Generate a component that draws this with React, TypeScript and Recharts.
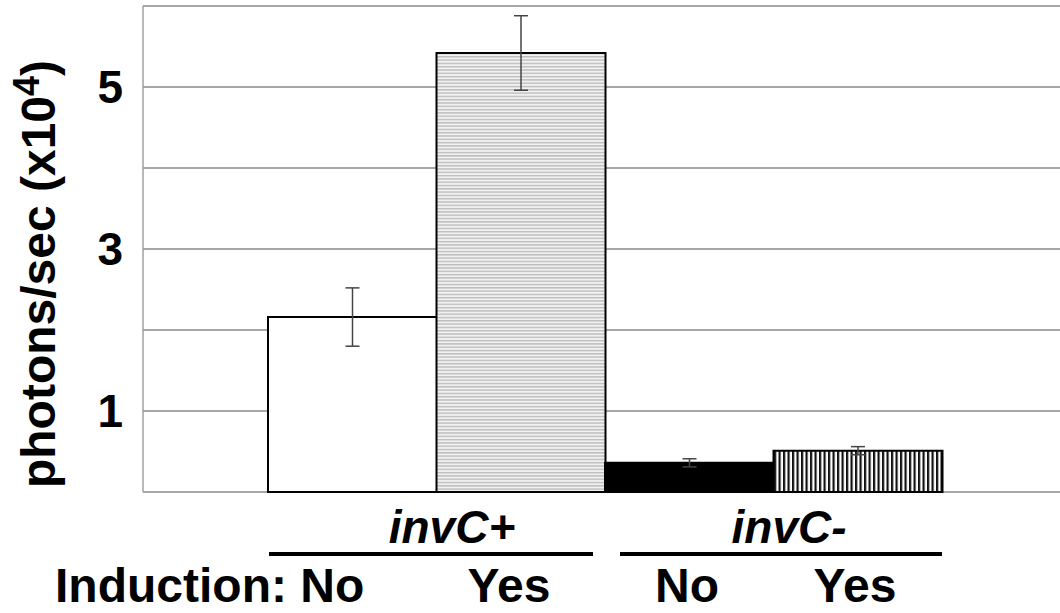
import React from 'react';
import { BarChart, Bar, XAxis, YAxis, CartesianGrid, ErrorBar, Cell } from 'recharts';

const categories = ['invC+ / No', 'invC+ / Yes', 'invC- / No', 'invC- / Yes'];
const photons = [2.16, 5.42, 0.36, 0.51];
const errors = [0.36, 0.46, 0.05, 0.05];
const yTicks = [0, 1, 2, 3, 4, 5, 6];
const labelledTicks = [1, 3, 5];
const groupLabels = ['invC+', 'invC-'];
const inductionLabels = ['No', 'Yes', 'No', 'Yes'];

const fills = ['#ffffff', 'url(#hstripe)', '#000000', 'url(#vstripe)'];
const font = '"Liberation Sans", Arial, sans-serif';

const data = categories.map((name, i) => ({ name, value: photons[i], err: errors[i] }));

const YTick = (props: any) => {
  const { y, payload } = props;
  if (!labelledTicks.includes(payload.value)) return <g />;
  return (
    <text x={123} y={y} dy={16} textAnchor="end" fontSize={46} fontWeight="bold" fontFamily={font} fill="#000">
      {payload.value}
    </text>
  );
};

const App: React.FC = () => {
  return (
    <div style={{ position: 'absolute', left: 0, top: 0, width: 1060, height: 613, background: '#fff' }}>
      <BarChart
        width={1060}
        height={613}
        data={data}
        margin={{ top: 6, right: 0, bottom: 121, left: 0 }}
        barCategoryGap={0}
      >
        <defs>
          <pattern id="hstripe" patternUnits="userSpaceOnUse" width={10} height={3.3}>
            <rect x={0} y={0} width={10} height={3.3} fill="#f1f1f1" />
            <rect x={0} y={0} width={10} height={1.4} fill="#bdbdbd" />
          </pattern>
          <pattern id="vstripe" patternUnits="userSpaceOnUse" width={4.5} height={10}>
            <rect x={0} y={0} width={4.5} height={10} fill="#ffffff" />
            <rect x={0} y={0} width={2.2} height={10} fill="#111111" />
          </pattern>
        </defs>
        <CartesianGrid vertical={false} stroke="#8a8a8a" strokeWidth={1.5} />
        <XAxis dataKey="name" hide padding={{ left: 125, right: 118 }} />
        <YAxis
          domain={[0, 6]}
          ticks={yTicks}
          interval={0}
          width={143}
          tickLine={false}
          axisLine={{ stroke: '#a0a0a0', strokeWidth: 1.5 }}
          tick={<YTick />}
        />
        <Bar dataKey="value" isAnimationActive={false} stroke="#000" strokeWidth={2}>
          {data.map((d, i) => (
            <Cell key={d.name} fill={fills[i]} />
          ))}
          <ErrorBar dataKey="err" width={7} stroke="#444" strokeWidth={1.5} />
        </Bar>
      </BarChart>
      <svg
        width={1060}
        height={613}
        style={{ position: 'absolute', left: 0, top: 0, pointerEvents: 'none' }}
        fontFamily={font}
        fontWeight="bold"
      >
        <text x={55} y={274} transform="rotate(-90, 55, 274)" textAnchor="middle" fontSize={48} fill="#000">
          photons/sec (x10<tspan dy={-16} fontSize={36}>4</tspan><tspan dy={16}>)</tspan>
        </text>
        <text x={452} y={543} textAnchor="middle" fontSize={46} fontStyle="italic" fill="#000">{groupLabels[0]}</text>
        <text x={789} y={543} textAnchor="middle" fontSize={46} fontStyle="italic" fill="#000">{groupLabels[1]}</text>
        <line x1={269} x2={593} y1={554} y2={554} stroke="#000" strokeWidth={4} />
        <line x1={620} x2={942} y1={554} y2={554} stroke="#000" strokeWidth={4} />
        <text x={55} y={602} fontSize={48} fill="#000">Induction: {inductionLabels[0]}</text>
        <text x={509} y={602} textAnchor="middle" fontSize={48} fill="#000">{inductionLabels[1]}</text>
        <text x={687} y={602} textAnchor="middle" fontSize={48} fill="#000">{inductionLabels[2]}</text>
        <text x={855} y={602} textAnchor="middle" fontSize={48} fill="#000">{inductionLabels[3]}</text>
      </svg>
    </div>
  );
};

export default App;
